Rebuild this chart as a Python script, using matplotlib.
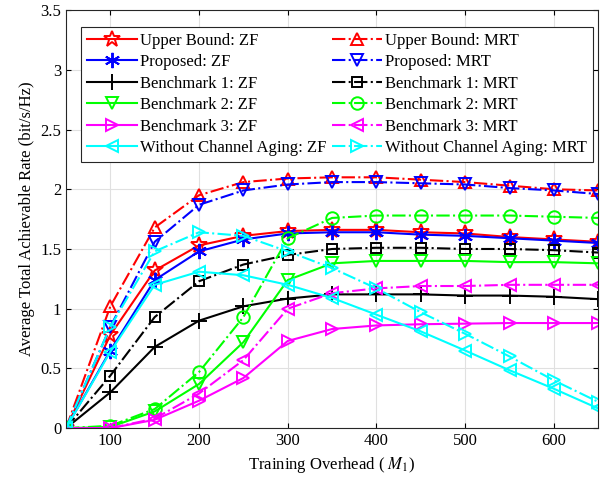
import numpy as np
import matplotlib
matplotlib.use('Agg')
import matplotlib.pyplot as plt

plt.rcParams['font.family'] = ['Liberation Serif', 'DejaVu Serif']
plt.rcParams['mathtext.fontset'] = 'stix'

# training overhead M_1
m1 = [50, 100, 150, 200, 250, 300, 350, 400, 450, 500, 550, 600, 650]

# average total achievable rate (bit/s/Hz)
ub_zf = [0, 0.78, 1.32, 1.53, 1.61, 1.65, 1.66, 1.66, 1.64, 1.63, 1.60, 1.58, 1.56]
ub_mrt = [0, 1.02, 1.68, 1.95, 2.06, 2.09, 2.10, 2.10, 2.08, 2.06, 2.03, 2.00, 1.99]
prop_zf = [0, 0.65, 1.24, 1.48, 1.58, 1.63, 1.64, 1.64, 1.62, 1.61, 1.59, 1.57, 1.55]
prop_mrt = [0, 0.85, 1.56, 1.87, 1.99, 2.04, 2.06, 2.06, 2.05, 2.04, 2.01, 1.99, 1.96]
b1_zf = [0, 0.30, 0.68, 0.90, 1.02, 1.085, 1.12, 1.12, 1.12, 1.11, 1.11, 1.10, 1.08]
b1_mrt = [0, 0.44, 0.93, 1.23, 1.37, 1.45, 1.50, 1.51, 1.51, 1.50, 1.50, 1.49, 1.47]
b2_zf = [0, 0.01, 0.14, 0.37, 0.72, 1.24, 1.38, 1.40, 1.40, 1.40, 1.39, 1.39, 1.38]
b2_mrt = [0, 0.02, 0.16, 0.47, 0.93, 1.59, 1.76, 1.78, 1.78, 1.78, 1.78, 1.77, 1.76]
b3_zf = [0, 0.0, 0.07, 0.23, 0.42, 0.73, 0.83, 0.86, 0.87, 0.875, 0.88, 0.88, 0.88]
b3_mrt = [0, 0.0, 0.08, 0.29, 0.57, 1.00, 1.13, 1.17, 1.19, 1.19, 1.20, 1.20, 1.20]
nca_zf = [0, 0.64, 1.20, 1.31, 1.28, 1.20, 1.09, 0.95, 0.81, 0.65, 0.485, 0.33, 0.165]
nca_mrt = [0, 0.85, 1.48, 1.64, 1.61, 1.48, 1.34, 1.17, 0.97, 0.79, 0.60, 0.40, 0.22]

series = [
    (ub_zf, '#ff0000', '-', '*', 'Upper Bound: ZF'),
    (ub_mrt, '#ff0000', '-.', '^', 'Upper Bound: MRT'),
    (prop_zf, '#0000ff', '-', (6, 2, 0), 'Proposed: ZF'),
    (prop_mrt, '#0000ff', '-.', 'v', 'Proposed: MRT'),
    (b1_zf, '#000000', '-', '+', 'Benchmark 1: ZF'),
    (b1_mrt, '#000000', '-.', 's', 'Benchmark 1: MRT'),
    (b2_zf, '#00ff00', '-', 'v', 'Benchmark 2: ZF'),
    (b2_mrt, '#00ff00', '-.', 'o', 'Benchmark 2: MRT'),
    (b3_zf, '#ff00ff', '-', '>', 'Benchmark 3: ZF'),
    (b3_mrt, '#ff00ff', '-.', '<', 'Benchmark 3: MRT'),
    (nca_zf, '#00ffff', '-', '<', 'Without Channel Aging: ZF'),
    (nca_mrt, '#00ffff', '-.', '>', 'Without Channel Aging: MRT'),
]

fig = plt.figure(figsize=(6, 4.8), dpi=100)
ax = fig.add_axes([0.11, 0.108, 0.887, 0.871])

for y, c, ls, mk, lab in series:
    ms = 9
    if mk == 's':
        ms = 7
    elif mk == '*':
        ms = 12
    elif mk in ('+', (6, 2, 0)):
        ms = 11
    ax.plot(m1, y, color=c, linestyle=ls, marker=mk, markersize=ms,
            markerfacecolor='none', markeredgewidth=1.4, linewidth=1.5, label=lab)

ax.set_xlim(50, 650)
ax.set_ylim(0, 3.5)
ax.set_xticks([100, 200, 300, 400, 500, 600])
ax.set_yticks(np.arange(0, 3.51, 0.5))
ax.set_yticklabels(['0', '0.5', '1', '1.5', '2', '2.5', '3', '3.5'])
ax.grid(True, color='#e0e0e0', linewidth=0.8)
ax.set_axisbelow(True)
ax.tick_params(direction='in', labelsize=12, top=True, right=True)
for s in ax.spines.values():
    s.set_color('#262626')
ax.set_xlabel('Training Overhead ( $M_1$)', fontsize=12)
ax.set_ylabel('Average Total Achievable Rate (bit/s/Hz)', fontsize=12)

# reorder so ZF fills the left column, MRT the right
h, l = ax.get_legend_handles_labels()
order = list(range(0, 12, 2)) + list(range(1, 12, 2))
leg = ax.legend([h[i] for i in order], [l[i] for i in order], ncol=2, loc='upper left',
                bbox_to_anchor=(0.012, 0.98), fontsize=12, handlelength=3,
                columnspacing=0.35, handletextpad=0.2, labelspacing=0.33,
                borderpad=0.35, fancybox=False, edgecolor='#262626', framealpha=1)
leg.get_frame().set_linewidth(0.8)

plt.savefig('out.png')
